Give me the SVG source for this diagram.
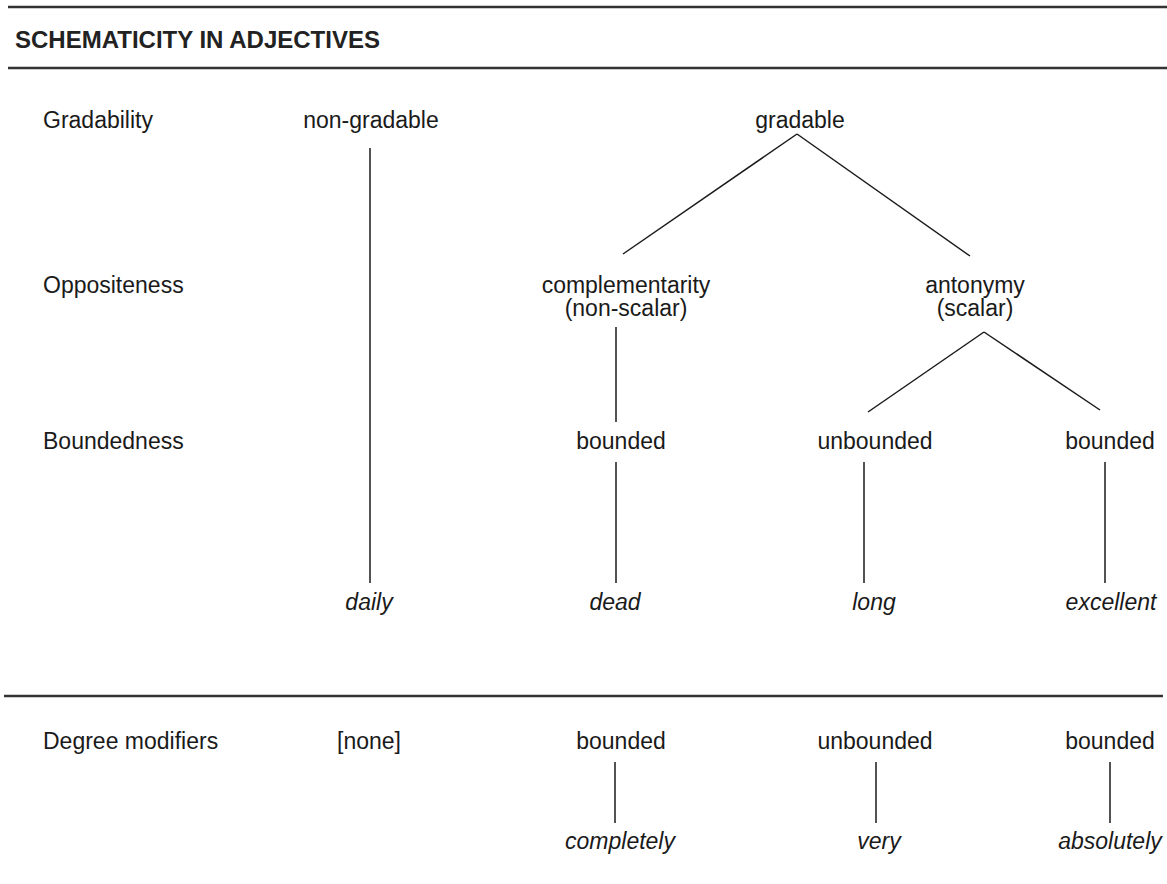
<svg xmlns="http://www.w3.org/2000/svg" width="1167" height="884" viewBox="0 0 1167 884">
<style>
text{font-family:"Liberation Sans",Arial,sans-serif;font-size:23px;fill:#1a1a1a}
.t{font-weight:bold;font-size:24px;fill:#222}
.m{text-anchor:middle}
.i{font-style:italic}
.rule{stroke:#333;stroke-width:2.5;fill:none}
.ln{stroke:#1a1a1a;stroke-width:1.5;fill:none}
</style>
<rect width="1167" height="884" fill="#fff"/>
<g id="header">
<line class="rule" x1="8" y1="7" x2="1167" y2="7"/>
<text class="t" x="15" y="48">SCHEMATICITY IN ADJECTIVES</text>
<line class="rule" x1="8" y1="68" x2="1167" y2="68"/>
</g>
<g id="row-labels">
<text x="43" y="128">Gradability</text>
<text x="43" y="293">Oppositeness</text>
<text x="43" y="449">Boundedness</text>
</g>
<g id="n-nongradable"><text class="m" x="371" y="128">non-gradable</text></g>
<g id="n-gradable"><text class="m" x="800" y="128">gradable</text></g>
<g id="n-complementarity"><text class="m" x="626" y="293">complementarity<tspan x="626" dy="23">(non-scalar)</tspan></text></g>
<g id="n-antonymy"><text class="m" x="975" y="293">antonymy<tspan x="975" dy="23">(scalar)</tspan></text></g>
<g id="n-bounded1"><text class="m" x="621" y="449">bounded</text></g>
<g id="n-unbounded"><text class="m" x="875" y="449">unbounded</text></g>
<g id="n-bounded2"><text class="m" x="1110" y="449">bounded</text></g>
<g id="n-daily"><text class="m i" x="369" y="610">daily</text></g>
<g id="n-dead"><text class="m i" x="615" y="610">dead</text></g>
<g id="n-long"><text class="m i" x="874" y="610">long</text></g>
<g id="n-excellent"><text class="m i" x="1111" y="610">excellent</text></g>
<g id="divider"><line class="rule" x1="4" y1="696" x2="1163" y2="696"/></g>
<g id="degree-modifiers">
<text x="43" y="749">Degree modifiers</text>
<text class="m" x="369" y="749">[none]</text>
<text class="m" x="621" y="749">bounded</text>
<text class="m" x="875" y="749">unbounded</text>
<text class="m" x="1110" y="749">bounded</text>
<text class="m i" x="620" y="849">completely</text>
<text class="m i" x="879" y="849">very</text>
<text class="m i" x="1110" y="849">absolutely</text>
</g>
<g id="connectors">
<line class="ln" x1="370" y1="148" x2="370" y2="583"/>
<line class="ln" x1="797" y1="134" x2="623" y2="254"/>
<line class="ln" x1="797" y1="134" x2="970" y2="256"/>
<line class="ln" x1="616" y1="327" x2="616" y2="422"/>
<line class="ln" x1="984" y1="332" x2="868" y2="412"/>
<line class="ln" x1="984" y1="332" x2="1100" y2="410"/>
<line class="ln" x1="616" y1="462" x2="616" y2="583"/>
<line class="ln" x1="864" y1="462" x2="864" y2="583"/>
<line class="ln" x1="1105" y1="462" x2="1105" y2="583"/>
<line class="ln" x1="615" y1="762" x2="615" y2="823"/>
<line class="ln" x1="876" y1="762" x2="876" y2="823"/>
<line class="ln" x1="1110" y1="762" x2="1110" y2="823"/>
</g>
</svg>
